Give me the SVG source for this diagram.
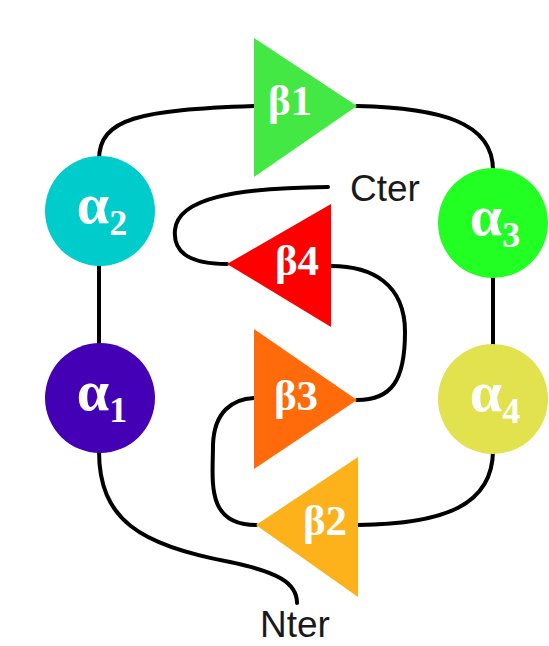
<svg xmlns="http://www.w3.org/2000/svg" width="549" height="646" viewBox="0 0 549 646">
<style>
.lbl{font-family:"Liberation Serif","DejaVu Serif",serif;fill:#fff;font-weight:bold;}
.a{font-size:58px;}
.sub{font-size:36px;}
.b{font-size:43px;}
.term{font-family:"Liberation Sans",Arial,sans-serif;font-size:37px;fill:#1a1a1a;}
.con{fill:none;stroke:#000;stroke-width:4;stroke-linecap:round;}
</style>
<rect width="549" height="646" fill="#fff"/>
<g id="connectors">
<path class="con" d="M99,160 C99,118 140,110 254,106"/>
<path class="con" d="M357,106 C440,108 493,122 493,170"/>
<path class="con" d="M99,262 L99,345"/>
<path class="con" d="M493,275 L493,347"/>
<path class="con" d="M493,450 C493,505 445,524 358,525"/>
<path class="con" d="M256,525 C205,525 213,480 213,445 C214,412 232,399 254,398"/>
<path class="con" d="M357,400 C392,400 405,380 405,332 C405,284 372,266 331,266"/>
<path class="con" d="M227,264 C186,264 173,250 175,230 C178,198 235,188 328,187"/>
<path class="con" d="M99,451 C99,520 140,545 230,562 C278,572 297,583 297,603"/>
</g>
<g id="b1"><polygon points="254,38 254,177 357,106" fill="#44E844"/><text class="lbl b" x="290" y="115" text-anchor="middle">β1</text></g>
<g id="b4"><polygon points="331,204 331,327 227,264" fill="#FF0000"/><text class="lbl b" x="297" y="275" text-anchor="middle">β4</text></g>
<g id="b3"><polygon points="254,329 254,469 357,400" fill="#FF6A0A"/><text class="lbl b" x="296" y="410" text-anchor="middle">β3</text></g>
<g id="b2"><polygon points="358,457 358,597 256,525" fill="#FDB21B"/><text class="lbl b" x="325" y="535" text-anchor="middle">β2</text></g>
<g id="a2"><circle cx="100" cy="211" r="55" fill="#00CCCC"/><text class="lbl" x="102" y="223" text-anchor="middle"><tspan class="a">α</tspan><tspan class="sub" dy="12">2</tspan></text></g>
<g id="a1"><circle cx="100" cy="398" r="55" fill="#4400B4"/><text class="lbl" x="102" y="410" text-anchor="middle"><tspan class="a">α</tspan><tspan class="sub" dy="12">1</tspan></text></g>
<g id="a3"><circle cx="493" cy="223" r="55" fill="#22FF22"/><text class="lbl" x="495" y="235" text-anchor="middle"><tspan class="a">α</tspan><tspan class="sub" dy="12">3</tspan></text></g>
<g id="a4"><circle cx="493" cy="399" r="55" fill="#E2E24E"/><text class="lbl" x="495" y="411" text-anchor="middle"><tspan class="a">α</tspan><tspan class="sub" dy="12">4</tspan></text></g>
<g id="cter"><text class="term" x="350" y="201">Cter</text></g>
<g id="nter"><text class="term" x="260" y="637">Nter</text></g>
</svg>
